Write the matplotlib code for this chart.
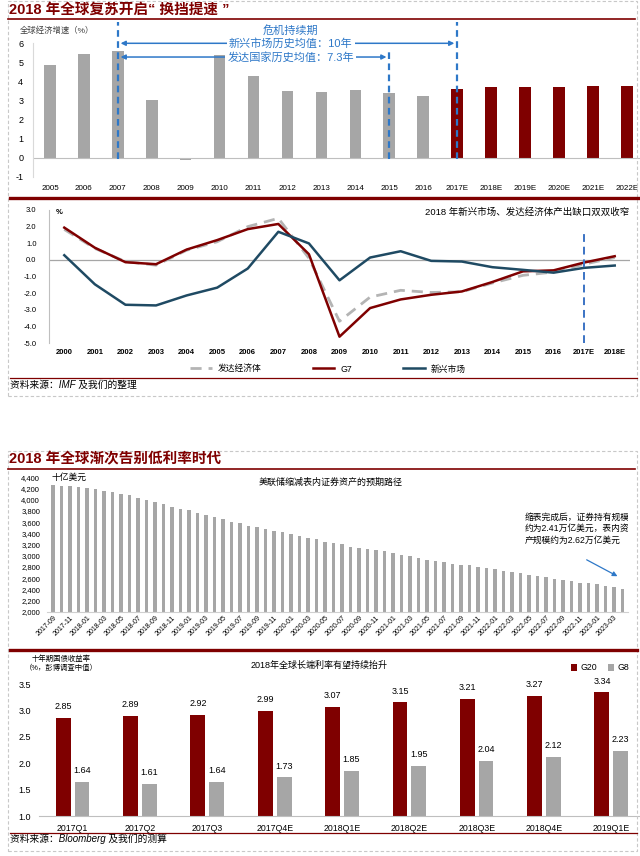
import matplotlib
matplotlib.use("Agg")
import matplotlib.pyplot as plt
from matplotlib.lines import Line2D
from matplotlib.patches import Rectangle
import pandas as pd

plt.rcParams['font.family'] = ['Liberation Sans', 'Noto Sans CJK SC', 'DejaVu Sans']
plt.rcParams['axes.unicode_minus'] = False

W, H = 640, 856
RED = '#7f0000'
GRAY = '#a6a6a6'
BLUE = '#2e78c8'
NAVY = '#1f4a63'

# ---- data: world growth ----
growth_years = ['2005', '2006', '2007', '2008', '2009', '2010', '2011', '2012', '2013',
                '2014', '2015', '2016', '2017E', '2018E', '2019E', '2020E', '2021E', '2022E']
growth = [4.86, 5.44, 5.6, 3.02, -0.1, 5.39, 4.28, 3.51, 3.47, 3.54, 3.39, 3.21,
          3.61, 3.70, 3.70, 3.72, 3.77, 3.75]

# ---- data: output gap ----
gap_years = ['2000', '2001', '2002', '2003', '2004', '2005', '2006', '2007', '2008', '2009',
             '2010', '2011', '2012', '2013', '2014', '2015', '2016', '2017E', '2018E']
gap_dev = [1.83, 0.69, -0.10, -0.32, 0.58, 1.09, 2.0, 2.5, 0.1, -3.69,
           -2.24, -1.83, -1.96, -1.92, -1.39, -0.93, -0.73, -0.26, 0.14]
gap_g7 = [1.94, 0.73, -0.14, -0.26, 0.62, 1.19, 1.85, 2.16, 0.34, -4.62,
          -2.90, -2.38, -2.10, -1.90, -1.33, -0.69, -0.63, -0.16, 0.22]
gap_em = [0.28, -1.47, -2.70, -2.74, -2.14, -1.67, -0.52, 1.69, 0.99, -1.23,
          0.14, 0.52, -0.06, -0.10, -0.44, -0.60, -0.77, -0.48, -0.34]

# ---- data: Fed balance sheet path (bn USD) ----
fed_months = pd.date_range('2017-09-01', periods=68, freq='MS').strftime('%Y-%m').tolist()
fed_assets = [4263, 4251, 4239, 4227, 4203, 4186, 4162, 4138, 4102, 4078, 4031, 3995, 3959,
              3923, 3876, 3840, 3816, 3769, 3733, 3686, 3650, 3607, 3578, 3536, 3512, 3477,
              3441, 3417, 3387, 3352, 3322, 3293, 3250, 3227, 3203, 3161, 3143, 3125, 3096,
              3078, 3054, 3018, 2994, 2964, 2928, 2911, 2893, 2852, 2840, 2828, 2792, 2774,
              2762, 2727, 2709, 2691, 2649, 2637, 2619, 2584, 2572, 2554, 2512, 2506, 2494,
              2453, 2435, 2411]

# ---- data: 10y yields ----
quarters = ['2017Q1', '2017Q2', '2017Q3', '2017Q4E', '2018Q1E', '2018Q2E', '2018Q3E',
            '2018Q4E', '2019Q1E']
g20 = [2.85, 2.89, 2.92, 2.99, 3.07, 3.15, 3.21, 3.27, 3.34]
g8 = [1.64, 1.61, 1.64, 1.73, 1.85, 1.95, 2.04, 2.12, 2.23]


fig = plt.figure(figsize=(W / 100, H / 100), dpi=100)


def add_ax(l, t, r, b):
    return fig.add_axes([l / W, 1 - b / H, (r - l) / W, (b - t) / H])


def ftext(x, y, s, **kw):
    fig.text(x / W, 1 - y / H, s, **kw)


def hline(x0, x1, y, **kw):
    fig.add_artist(Line2D([x0 / W, x1 / W], [1 - y / H, 1 - y / H], transform=fig.transFigure, **kw))


def frame(l, t, r, b):
    fig.add_artist(Rectangle((l / W, 1 - b / H), (r - l) / W, (b - t) / H, transform=fig.transFigure,
                             fill=False, edgecolor='#c8c8c8', lw=0.8, linestyle=(0, (3, 2))))


def clean(ax):
    for s in ax.spines.values():
        s.set_visible(False)
    ax.tick_params(length=0)


# ================= section 1 =================
frame(8, 1, 637, 396)
ftext(9, 10, '2018 年全球复苏开启“ 换挡提速 ”', color=RED, fontsize=10.5, fontweight='bold', va='center')
hline(8, 635, 18.5, color=RED, lw=1.2)

ax1 = add_ax(33, 43.3, 640, 176.7)
clean(ax1)
ax1.spines['left'].set_visible(True)
ax1.spines['left'].set_color('#d9d9d9')
colors1 = [RED if y.endswith('E') else GRAY for y in growth_years]
ax1.bar(range(len(growth)), growth, width=0.34, color=colors1)
ax1.axhline(0, color='#bfbfbf', lw=0.8)
ax1.set_xlim(-0.5, 17.39)
ax1.set_ylim(-1, 6)
ax1.set_yticks(range(-1, 7))
ax1.set_xticks(range(len(growth_years)))
ax1.set_xticklabels(growth_years)
ax1.tick_params(axis='x', labelsize=5.8, pad=6)
ax1.tick_params(axis='y', labelsize=6.5, pad=7)
ftext(20, 30.5, '全球经济增速（%）', fontsize=6, color='#404040', va='center')

dash = (0, (3, 2))
for xi, ytop in [(2, 7.1), (10, 5.7), (12, 7.1)]:
    ax1.plot([xi, xi], [-0.05, ytop], color=BLUE, lw=1.6, linestyle=dash, clip_on=False)
for x_end, yv in [(12, 6.0), (10, 5.28)]:
    ax1.annotate('', xy=(2, yv), xytext=(x_end, yv),
                 arrowprops=dict(arrowstyle='<|-|>', color=BLUE, lw=1.1, mutation_scale=7),
                 annotation_clip=False)
ax1.text(7.1, 6.66, '危机持续期', color=BLUE, fontsize=8, ha='center', va='center', clip_on=False)
ax1.text(7.1, 6.0, '新兴市场历史均值：10年', color=BLUE, fontsize=8, ha='center', va='center',
         clip_on=False, bbox=dict(facecolor='white', edgecolor='none', pad=1.5))
ax1.text(7.1, 5.28, '发达国家历史均值：7.3年', color=BLUE, fontsize=8, ha='center', va='center',
         clip_on=False, bbox=dict(facecolor='white', edgecolor='none', pad=1.5))

hline(10, 640, 197.5, color=RED, lw=2.4)

ax2 = add_ax(49, 210, 630, 343)
clean(ax2)
ax2.spines['left'].set_visible(True)
ax2.spines['left'].set_color('#bfbfbf')
x2 = range(len(gap_years))
ax2.axhline(0, color='#a6a6a6', lw=0.9)
ax2.plot(x2, gap_dev, color='#b4b4b4', lw=2, linestyle=(0, (4, 2.5)), label='发达经济体')
ax2.plot(x2, gap_g7, color=RED, lw=1.8, label='G7')
ax2.plot(x2, gap_em, color=NAVY, lw=1.8, label='新兴市场')
ax2.plot([17, 17], [-5, 1.8], color='#3b73c4', lw=1.4, linestyle=(0, (4, 2.5)))
ax2.set_xlim(-0.5, 18.5)
ax2.set_ylim(-5, 3)
ax2.set_yticks(range(-5, 4))
ax2.set_yticklabels(['%.1f' % v for v in range(-5, 4)])
ax2.set_xticks(list(x2))
ax2.set_xticklabels(gap_years, fontweight='bold')
ax2.tick_params(axis='x', labelsize=5.5, pad=4)
ax2.tick_params(axis='y', labelsize=5.5, pad=9)
ftext(56, 212.5, '%', fontsize=5.5, fontweight='bold', va='center')
ftext(629, 212.5, '2018 年新兴市场、发达经济体产出缺口双双收窄', fontsize=6.8, ha='right', va='center')
ax2.legend(loc='center', bbox_to_anchor=(328 / W, 1 - 369 / H), bbox_transform=fig.transFigure,
           ncol=3, frameon=False, fontsize=6.3, handlelength=2.5, handletextpad=0.7,
           columnspacing=5.8)

hline(10, 637, 378, color=RED, lw=0.9)
ftext(10, 384.5, '资料来源：IMF 及我们的整理', fontsize=7, style='italic', va='center')

# ================= section 2 =================
frame(8, 451, 637, 851)
ftext(9, 459, '2018 年全球渐次告别低利率时代', color=RED, fontsize=10.5, fontweight='bold', va='center')
hline(8, 635, 469, color=RED, lw=1.2)

ax3 = add_ax(47, 477.3, 628, 611.7)
clean(ax3)
ax3.spines['bottom'].set_visible(True)
ax3.spines['bottom'].set_color('#d0d0d0')
ax3.bar(range(len(fed_assets)), fed_assets, width=0.45, color=GRAY)
ax3.set_xlim(-0.7, 67.65)
ax3.set_ylim(2000, 4400)
ax3.set_yticks(range(2000, 4401, 200))
ax3.set_yticklabels(['{:,}'.format(v) for v in range(2000, 4401, 200)])
ax3.set_xticks(range(0, len(fed_months), 2))
ax3.set_xticklabels(fed_months[::2], rotation=45, ha='right', rotation_mode='anchor')
ax3.tick_params(axis='x', labelsize=5, pad=2)
ax3.tick_params(axis='y', labelsize=5.5, pad=5)
ftext(52, 477.5, '十亿美元', fontsize=6.3, va='center')
ftext(331, 482.5, '美联储缩减表内证券资产的预期路径', fontsize=6.5, ha='center', va='center')
ax3.text(55.5, 3480,
         '缩表完成后，证券持有规模\n约为2.41万亿美元，表内资\n产规模约为2.62万亿美元',
         fontsize=6.3, va='center', ha='left', linespacing=1.35, clip_on=True)
ax3.annotate('', xy=(66.7, 2610), xytext=(62.5, 2950),
             arrowprops=dict(arrowstyle='-|>', color=BLUE, lw=0.9, mutation_scale=7))

hline(10, 637, 649.5, color=RED, lw=2.4)

ax4 = add_ax(39, 684, 645, 816)
clean(ax4)
ax4.spines['bottom'].set_visible(True)
ax4.spines['bottom'].set_color('#bfbfbf')
xq = list(range(len(quarters)))
b1 = ax4.bar([x - 0.14 for x in xq], g20, width=0.22, color=RED, label='G20')
b2 = ax4.bar([x + 0.14 for x in xq], g8, width=0.22, color=GRAY, label='G8')
for bars, vals in [(b1, g20), (b2, g8)]:
    for rect, v in zip(bars, vals):
        ax4.annotate('%.2f' % v, (rect.get_x() + rect.get_width() / 2, v), xytext=(0, 5),
                     textcoords='offset points', ha='center', va='bottom', fontsize=6.5,
                     annotation_clip=False)
ax4.set_xlim(-0.5, 8.5)
ax4.set_ylim(1.0, 3.5)
ax4.set_yticks([1.0, 1.5, 2.0, 2.5, 3.0, 3.5])
ax4.set_yticklabels(['%.1f' % v for v in [1.0, 1.5, 2.0, 2.5, 3.0, 3.5]])
ax4.set_xticks(xq)
ax4.set_xticklabels(quarters)
ax4.tick_params(axis='x', labelsize=6.3, pad=6)
ax4.tick_params(axis='y', labelsize=6.5, pad=6)
ftext(61, 659, '十年期国债收益率', fontsize=5.3, ha='center', va='center')
ftext(61, 668, '（%，彭博调查中值）', fontsize=5.3, ha='center', va='center')
ftext(319, 665, '2018年全球长端利率有望持续抬升', fontsize=6.5, ha='center', va='center')
ax4.legend(loc='center', bbox_to_anchor=(600 / W, 1 - 668 / H), bbox_transform=fig.transFigure,
           ncol=2, frameon=False, fontsize=6.3, handlelength=0.7, handleheight=0.7,
           handletextpad=0.4, columnspacing=1.2)

hline(10, 637, 832.5, color=RED, lw=0.9)
ftext(10, 838.5, '资料来源：Bloomberg 及我们的测算', fontsize=7, style='italic', va='center')

fig.savefig('out.png', dpi=100)
